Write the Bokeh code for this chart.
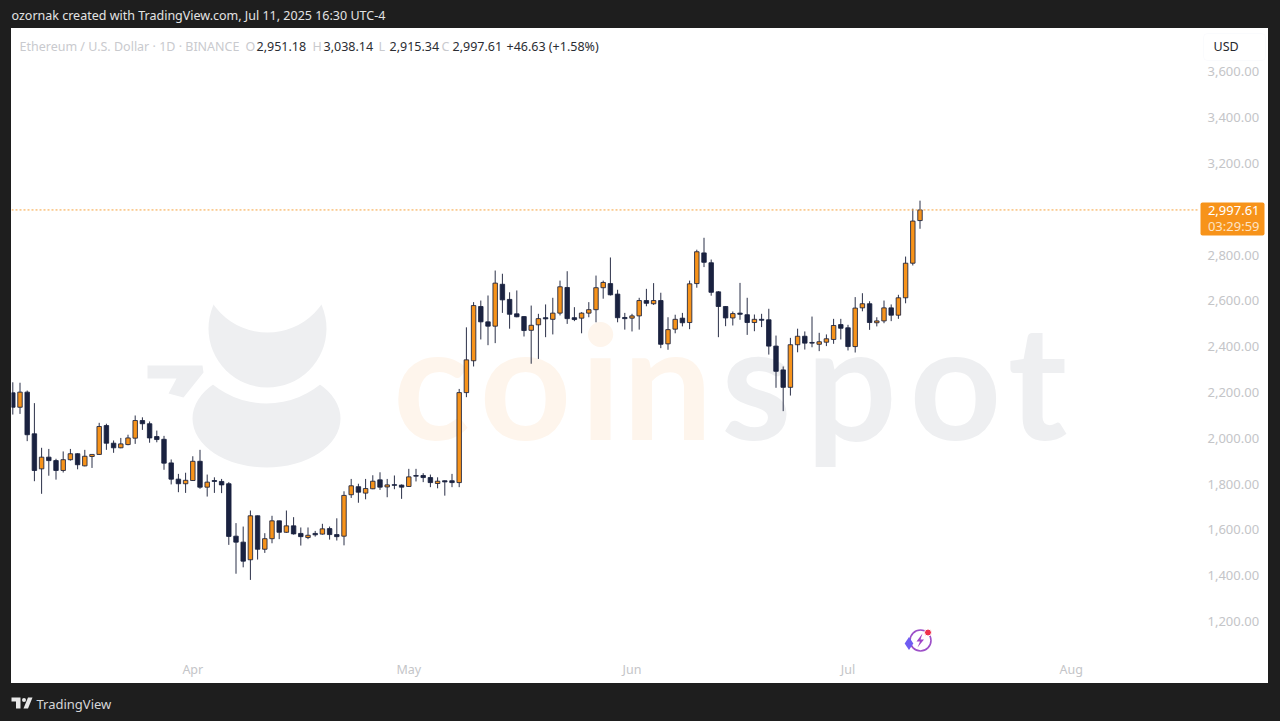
from bokeh.plotting import figure
from bokeh.layouts import column
from bokeh.embed import file_html
from bokeh.resources import INLINE
from bokeh.models import (Range1d, LinearAxis, FixedTicker, Label, BoxAnnotation, PolyAnnotation,
                          Span, ColumnDataSource, NumeralTickFormatter)

# ---- data: daily candles 7 Mar .. 11 Jul 2025 ----
opens = [2199,2136,2202,2020,1867,1918,1903,1860,1907,1933,
         1880,1921,1930,2056,1979,1959,1973,2001,2078,2064,
         2008,1996,1893,1822,1802,1816,1900,1787,1816,1812,
         1802,1573,1547,1470,1662,1516,1562,1640,1590,1618,
         1585,1567,1585,1582,1606,1580,1573,1754,1789,1761,
         1780,1819,1788,1798,1796,1790,1838,1838,1829,1803,
         1815,1815,1807,2200,2339,2576,2509,2490,2673,2607,
         2544,2532,2472,2496,2527,2520,2547,2659,2527,2525,
         2547,2562,2658,2676,2630,2528,2525,2535,2602,2588,
         2602,2413,2477,2525,2506,2676,2810,2767,2640,2576,
         2526,2547,2540,2506,2520,2518,2403,2299,2223,2409,
         2446,2419,2411,2420,2432,2497,2483,2401,2570,2588,
         2505,2513,2570,2538,2614,2765,2951.18]
highs = [2245,2243,2209,2154,1959,1954,1911,1943,1954,1935,
         1950,1930,2068,2064,1991,2002,2016,2100,2092,2074,
         2034,2011,1908,1845,1850,1922,1950,1842,1830,1823,
         1809,1630,1615,1685,1663,1586,1662,1641,1685,1656,
         1611,1611,1596,1627,1615,1651,1769,1823,1802,1823,
         1839,1852,1823,1838,1799,1867,1867,1848,1842,1830,
         1816,1845,2216,2485,2595,2602,2624,2733,2719,2638,
         2646,2534,2580,2544,2585,2614,2689,2730,2573,2551,
         2595,2711,2689,2790,2649,2548,2544,2614,2653,2678,
         2636,2529,2540,2548,2689,2824,2876,2781,2643,2577,
         2554,2679,2614,2541,2544,2566,2449,2314,2439,2479,
         2467,2532,2461,2454,2522,2522,2496,2617,2634,2599,
         2529,2602,2585,2627,2794,3003,3038.14]
lows = [2104,2107,1988,1813,1758,1837,1820,1851,1903,1865,
        1878,1871,1928,1950,1937,1957,1970,1976,2037,1981,
        1983,1863,1799,1765,1762,1814,1780,1746,1762,1761,
        1535,1409,1437,1382,1471,1500,1542,1560,1588,1580,
        1532,1560,1571,1580,1558,1554,1533,1740,1719,1734,
        1778,1775,1743,1778,1736,1788,1812,1809,1787,1782,
        1750,1787,1787,2180,2314,2432,2407,2416,2548,2479,
        2529,2445,2326,2347,2442,2454,2537,2500,2512,2459,
        2529,2507,2610,2624,2507,2475,2467,2475,2577,2583,
        2394,2387,2459,2489,2477,2658,2748,2623,2442,2490,
        2493,2518,2452,2468,2486,2366,2221,2119,2187,2376,
        2388,2398,2381,2403,2413,2432,2384,2375,2555,2474,
        2489,2503,2512,2522,2590,2755,2915.34]
closes = [2136,2202,2016,1860,1918,1903,1860,1907,1933,1885,
          1922,1930,2052,1979,1959,1976,2002,2078,2064,2002,
          1995,1892,1822,1802,1817,1900,1787,1809,1812,1797,
          1572,1547,1464,1662,1516,1562,1640,1590,1618,1583,
          1571,1577,1579,1605,1580,1571,1751,1793,1765,1781,
          1813,1787,1797,1795,1787,1832,1835,1829,1807,1813,
          1810,1807,2200,2343,2580,2509,2490,2678,2605,2542,
          2531,2471,2494,2523,2522,2547,2662,2523,2519,2547,
          2562,2658,2681,2627,2527,2523,2535,2602,2590,2602,
          2411,2475,2520,2505,2675,2815,2769,2638,2576,2526,
          2545,2542,2506,2520,2516,2403,2293,2223,2409,2446,
          2416,2416,2422,2435,2493,2481,2401,2569,2588,2506,
          2513,2570,2538,2614,2765,2949,2997.61]

price_ticks = [1200,1400,1600,1800,2000,2200,2400,2600,2800,3000,3200,3400,3600]
month_days = [25, 55, 86, 116, 147]
month_labels = ["Apr", "May", "Jun", "Jul", "Aug"]
last_price = 2997.61

UP, DOWN, WICK = "#f7931a", "#1a2240", "#2b3048"
FONT = "Noto Sans"

# mapping between picture pixels and the chart's scales
PXDAY, X0 = 7.2, 12.3
PXPRICE, P0 = 0.229, 3912.2
def dx(x): return (x - X0) / PXDAY
def dy(y): return P0 - y / PXPRICE

# white chart pane: x 11..1268, y 28..683, plotting frame up to x=1199, y=657
FL, FR, FT, FB, PR, PB = 11, 1199, 28, 657, 1268, 683
chart = figure(width=PR - FL, height=PB - FT, output_backend="svg", toolbar_location=None,
               x_range=Range1d(dx(FL), dx(FR)), y_range=Range1d(dy(FB), dy(FT)),
               x_axis_location=None, y_axis_location=None,
               min_border_left=0, min_border_right=PR - FR, min_border_top=0, min_border_bottom=PB - FB,
               margin=(FT, 1280 - PR, 721 - PB, FL), styles={"background-color": "white"})
chart.background_fill_color = "white"
chart.border_fill_color = "white"
chart.outline_line_color = None
chart.grid.visible = False

yax = LinearAxis(ticker=FixedTicker(ticks=price_ticks), formatter=NumeralTickFormatter(format="0,0.00"))
xax = LinearAxis(ticker=FixedTicker(ticks=month_days),
                 major_label_overrides=dict(zip(month_days, month_labels)))
for ax in (yax, xax):
    ax.axis_line_color = None
    ax.major_tick_line_color = None
    ax.major_tick_out = 0
    ax.major_tick_in = 0
    ax.minor_tick_line_color = None
    ax.major_label_text_color = "#c4c5c8"
    ax.major_label_text_font = FONT
    ax.major_label_text_font_size = "13px"
yax.major_label_standoff = 8
xax.major_label_standoff = 3
xax.major_label_text_font_size = "12.5px"
chart.add_layout(yax, "right")
chart.add_layout(xax, "below")

# watermark: icon
GREY, PEACH = "#eeeff1", "#fef5ec"
chart.ellipse([dx(266)], [dy(418)], width=148, height=98, width_units="screen", height_units="screen",
              fill_color=GREY, line_alpha=0, level="underlay")
chart.scatter([dx(266)], [dy(317.5)], size=171, fill_color="white", line_alpha=0, level="underlay")
chart.scatter([dx(267)], [dy(328)], size=118, fill_color=GREY, line_alpha=0, level="underlay")
chart.scatter([dx(267)], [dy(266)], size=132, fill_color="white", line_alpha=0, level="underlay")
chart.patch([dx(v) for v in (147, 202, 203, 183, 168, 176, 147)],
            [dy(v) for v in (365, 365, 372, 397, 393, 378, 378)],
            fill_color=GREY, line_alpha=0, level="underlay")

# watermark: wordmark
for ch, cx, col in [("c", 431, PEACH), ("o", 525, PEACH), ("i", 600, PEACH), ("n", 667, PEACH),
                    ("s", 756, GREY), ("p", 851, GREY), ("o", 955, GREY), ("t", 1037, GREY)]:
    chart.add_layout(Label(x=dx(cx), y=dy(377), text=ch, text_color=col, text_align="center",
                           text_baseline="middle", text_font="Lato", text_font_style="bold",
                           text_font_size="160px", level="underlay"))

# candles
days = list(range(len(opens)))
src = ColumnDataSource(dict(
    day=days, high=highs, low=lows,
    top=[max(o, c) for o, c in zip(opens, closes)],
    bottom=[min(o, c) for o, c in zip(opens, closes)],
    col=[UP if c >= o else DOWN for o, c in zip(opens, closes)]))
chart.segment("day", "high", "day", "low", source=src, line_color=WICK, line_width=1)
chart.vbar("day", width=0.62, top="top", bottom="bottom", source=src, fill_color="col",
           line_color=DOWN, line_width=1, line_alpha=0.85)

# last price line
chart.add_layout(Span(location=last_price, dimension="width", line_color="#f7a23b", line_width=1, line_dash="2 2"))

# assistant icon
chart.scatter([dx(920)], [dy(640)], size=21, fill_color="white", line_color="#9d50c8", line_width=1.6)
chart.patch([dx(v) for v in (922, 916, 919.5, 917, 923.5, 920, 922)],
            [dy(v) for v in (633, 641, 641, 647, 639, 639, 633)], fill_color="#a046c8", line_alpha=0)
chart.scatter([dx(908.5)], [dy(643)], marker="diamond", size=13, fill_color="#6f5cf2", line_alpha=0)
chart.scatter([dx(927.5)], [dy(632)], size=7, fill_color="#f0324b", line_color="white", line_width=1)

# transparent top layer, in page pixels: header, legend, price tag, footer.
# The column lines its figures' frames up, so this one keeps the same right border, past the window's edge.
RB = PR - FR
top = figure(width=1280 + RB, height=721, output_backend="svg", toolbar_location=None,
             x_range=Range1d(0, 1280), y_range=Range1d(721, 0),
             x_axis_location=None, y_axis_location=None,
             min_border_left=0, min_border_right=RB, min_border_top=0, min_border_bottom=0,
             margin=(-721, 0, 0, 0))
top.background_fill_alpha = 0
top.border_fill_alpha = 0
top.outline_line_color = None
top.grid.visible = False

def box(l, r, t, b, **kw):
    top.add_layout(BoxAnnotation(left=l, right=r, top=t, bottom=b, fill_alpha=1, **kw))

def lab(x, y, text, color, size="12.5px", align="left"):
    top.add_layout(Label(x=x, y=y, text=text, text_color=color, text_font=FONT, text_font_size=size,
                         text_align=align, text_baseline="middle"))

box(1200, 1264, 202, 235, fill_color="#f7931a", line_alpha=0, border_radius=2)
box(1203, 1265, 33, 60, fill_color="white", line_color="#f0f3fa", line_width=1, border_radius=4)
lab(1259, 210, "{:,.2f}".format(last_price), "white", size="13px", align="right")
lab(1259, 225.5, "03:29:59", "#fde3c4", size="13px", align="right")
lab(1213, 46, "USD", "#26282e")

lab(11, 15, "ozornak created with TradingView.com, Jul 11, 2025 16:30 UTC-4", "#e3e3e3")
lab(19, 46, "Ethereum / U.S. Dollar · 1D · BINANCE", "#c9cace")
for x, t, c in [(245, "O", "#c9cace"), (256, "2,951.18", "#2b2d33"),
                (312, "H", "#c9cace"), (323, "3,038.14", "#2b2d33"),
                (378, "L", "#c9cace"), (389, "2,915.34", "#2b2d33"),
                (441, "C", "#c9cace"), (452, "2,997.61", "#2b2d33"),
                (506, "+46.63 (+1.58%)", "#2b2d33")]:
    lab(x, 46, t, c)

lab(36, 703, "TradingView", "#d6d6d8", size="13px")
for xs, ys in [((11, 20, 20, 15.5, 15.5, 11), (697, 697, 708, 708, 701, 701)),
               ((27.5, 32, 27.5, 23), (697, 697, 708, 708))]:
    top.add_layout(PolyAnnotation(xs=list(xs), ys=list(ys), fill_color="#e8e8e8", fill_alpha=1, line_alpha=0))
box(21.5, 25.5, 697.5, 701.5, fill_color="#e8e8e8", line_alpha=0, border_radius=2)

p = column(chart, top)
page = """{% block postamble %}<style>html,body{background:#1e1e1e;margin:0;overflow:hidden}</style>{% endblock %}"""
open("out.html", "w").write(file_html(p, INLINE, template=page))
